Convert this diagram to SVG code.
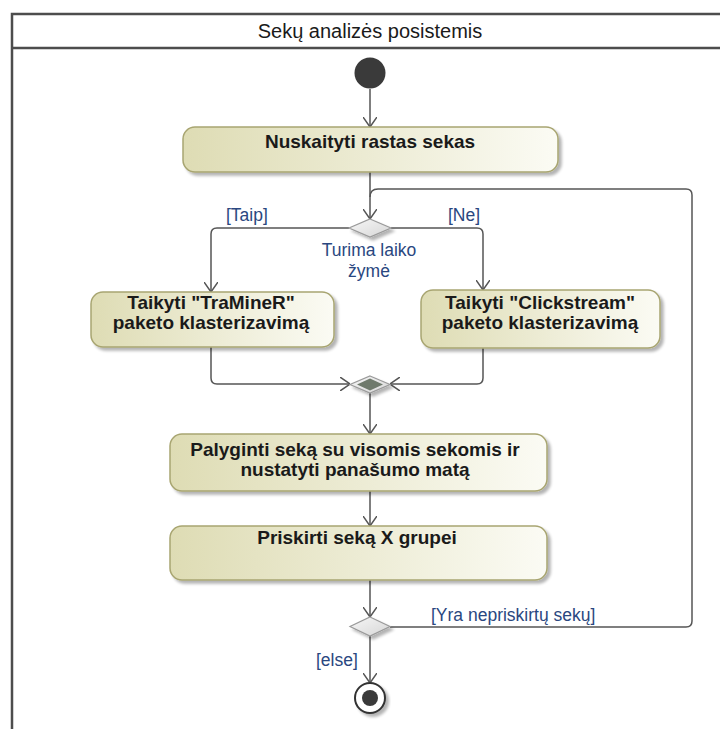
<svg xmlns="http://www.w3.org/2000/svg" width="720" height="729" viewBox="0 0 720 729">
<defs>
<linearGradient id="actFill" x1="0" y1="0" x2="1" y2="0">
<stop offset="0" stop-color="#dedcb4"/>
<stop offset="1" stop-color="#fbfbf4"/>
</linearGradient>
<linearGradient id="decFill" x1="0" y1="0" x2="1" y2="1">
<stop offset="0" stop-color="#f7f7f7"/>
<stop offset="1" stop-color="#d6d6d6"/>
</linearGradient>
<filter id="shadow" x="-10%" y="-20%" width="130%" height="160%">
<feGaussianBlur in="SourceAlpha" stdDeviation="1.5"/>
<feOffset dx="3" dy="3" result="o"/>
<feComponentTransfer><feFuncA type="linear" slope="0.3"/></feComponentTransfer>
<feMerge><feMergeNode/><feMergeNode in="SourceGraphic"/></feMerge>
</filter>
<marker id="arr" viewBox="0 0 10 14" markerWidth="10" markerHeight="14" refX="10" refY="7" orient="auto" markerUnits="userSpaceOnUse">
<path d="M0,0 L10,7 L0,14" fill="none" stroke="#555" stroke-width="1.5"/>
</marker>
</defs>
<style>
.frame{fill:none;stroke:#4d4d4d;stroke-width:2.5}
.act{fill:url(#actFill);stroke:#a8a571;stroke-width:1.5;filter:url(#shadow)}
.dec{fill:url(#decFill);stroke:#9a9a9a;stroke-width:1.2;filter:url(#shadow)}
.flow{fill:none;stroke:#555;stroke-width:1.5}
.atext{font-family:"Liberation Sans",Arial,sans-serif;font-size:19px;font-weight:bold;fill:#1a1a1a;text-anchor:middle}
.guard{font-family:"Liberation Sans",Arial,sans-serif;font-size:17.5px;fill:#2a4780}
.title{font-family:"Liberation Sans",Arial,sans-serif;font-size:20px;fill:#1a1a1a;text-anchor:middle}
</style>
<g id="frame">
<rect class="frame" x="12" y="14" width="730" height="740"/>
<line class="frame" x1="12" y1="48" x2="742" y2="48"/>
<text class="title" x="370" y="38">Sekų analizės posistemis</text>
</g>
<g id="connectors">
<line class="flow" x1="370" y1="89" x2="370" y2="127" marker-end="url(#arr)"/>
<line class="flow" x1="370" y1="172" x2="370" y2="219" marker-end="url(#arr)"/>
<path class="flow" d="M390,627 L686,627 Q692,627 692,621 L692,195 Q692,189 686,189 L378,189 Q370,189 370,197"/>
<path class="flow" d="M349,228 L217,228 Q211,228 211,234 L211,292" marker-end="url(#arr)"/>
<path class="flow" d="M391,228 L477,228 Q483,228 483,234 L483,290" marker-end="url(#arr)"/>
<path class="flow" d="M211,347 L211,378 Q211,384 217,384 L350,384" marker-end="url(#arr)"/>
<path class="flow" d="M483,348 L483,378 Q483,384 477,384 L390,384" marker-end="url(#arr)"/>
<line class="flow" x1="370" y1="393" x2="370" y2="434" marker-end="url(#arr)"/>
<line class="flow" x1="370" y1="491" x2="370" y2="526" marker-end="url(#arr)"/>
<line class="flow" x1="370" y1="580" x2="370" y2="617" marker-end="url(#arr)"/>
<line class="flow" x1="370" y1="636" x2="370" y2="683" marker-end="url(#arr)"/>
<text class="guard" x="226" y="221">[Taip]</text>
<text class="guard" x="448" y="221">[Ne]</text>
<text class="guard" x="431" y="621">[Yra nepriskirtų sekų]</text>
<text class="guard" x="316" y="666">[else]</text>
</g>
<g id="start">
<circle cx="370" cy="73" r="15.5" fill="#3a3a3a"/>
</g>
<g id="readSequences">
<rect class="act" x="183" y="127" width="375" height="45" rx="12"/>
<text class="atext" x="370" y="148">Nuskaityti rastas sekas</text>
</g>
<g id="decisionTimestamp">
<polygon class="dec" points="370,219 391,228 370,237 349,228"/>
<text class="guard" x="369" y="256" text-anchor="middle">Turima laiko</text>
<text class="guard" x="369" y="277" text-anchor="middle">žymė</text>
</g>
<g id="traminer">
<rect class="act" x="91" y="292" width="243" height="55" rx="12"/>
<text class="atext" x="211" y="309">Taikyti "TraMineR"</text>
<text class="atext" x="211" y="329">paketo klasterizavimą</text>
</g>
<g id="clickstream">
<rect class="act" x="421" y="290" width="239" height="58" rx="12"/>
<text class="atext" x="540" y="309">Taikyti "Clickstream"</text>
<text class="atext" x="540" y="329">paketo klasterizavimą</text>
</g>
<g id="merge">
<polygon class="dec" points="370,376 390,384.5 370,393 350,384.5"/>
<polygon points="370,378.5 383,384.5 370,390.5 357,384.5" fill="#6f7a6c"/>
</g>
<g id="compare">
<rect class="act" x="170" y="434" width="377" height="57" rx="12"/>
<text class="atext" x="355" y="456">Palyginti seką su visomis sekomis ir</text>
<text class="atext" x="355" y="476">nustatyti panašumo matą</text>
</g>
<g id="assign">
<rect class="act" x="170" y="526" width="377" height="54" rx="12"/>
<text class="atext" x="357" y="544">Priskirti seką X grupei</text>
</g>
<g id="decisionRemaining">
<polygon class="dec" points="370,617 390,626.5 370,636 350,626.5"/>
</g>
<g id="end">
<circle cx="370" cy="698" r="15" fill="#fff" stroke="#333" stroke-width="2" filter="url(#shadow)"/>
<circle cx="370" cy="698" r="8" fill="#3a3a3a"/>
</g>
</svg>
